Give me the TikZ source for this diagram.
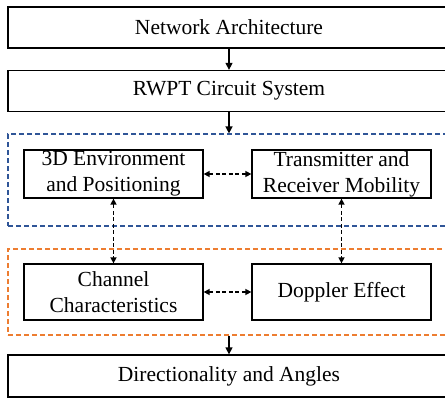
\documentclass[tikz,border=0pt]{standalone}
\usepackage{fontspec}
\setmainfont{Liberation Serif}
\newfontfamily\tmsfont{Liberation Serif}
\usetikzlibrary{arrows.meta}
\definecolor{grpblue}{RGB}{47,85,151}
\definecolor{grporange}{RGB}{237,125,49}
\tikzset{
  bigbox/.style={draw=black, line width=1.3pt, rectangle, minimum width=442pt, minimum height=41pt, inner sep=0pt, font=\tmsfont\fontsize{21.5}{25}\selectfont},
  smallbox/.style={draw=black, line width=1.3pt, rectangle, minimum width=179pt, minimum height=48pt, inner sep=0pt, align=center, font=\tmsfont\fontsize{21.5}{26}\selectfont},
  group/.style={draw, dashed, dash pattern=on 5pt off 3pt, line width=1.2pt, rectangle, minimum width=442pt, inner sep=0pt},
  solidarrow/.style={line width=1.4pt, -{Triangle[length=7pt,width=7pt]}},
  dasharrow/.style={line width=1.5pt, dashed, dash pattern=on 4pt off 2.5pt, {Triangle[length=6pt,width=6pt]}-{Triangle[length=6pt,width=6pt]}}
}
\begin{document}
\begin{tikzpicture}[x=1pt,y=-1pt]
\useasboundingbox (0,0) rectangle (445,399);
\clip (0,0) rectangle (445,399);
\node[group, draw=grpblue, minimum height=92pt] (blue) at (229,180) {};
\node[group, draw=grporange, minimum height=86pt] (orange) at (229,292) {};
\node[bigbox] (net) at (229,27.5) {Network Architecture};
\node[bigbox] (rwpt) at (229,91) {RWPT Circuit System};
\node[smallbox] (env) at (113.5,174) {3D Environment\\and Positioning};
\node[smallbox] (mob) at (341.5,174) {Transmitter and\\Receiver Mobility};
\node[smallbox, minimum height=56pt] (chan) at (113.5,292) {Channel\\Characteristics};
\node[smallbox, minimum height=56pt] (dop) at (341.5,292) {Doppler Effect};
\node[bigbox, minimum height=42pt] (dir) at (229,376) {Directionality and Angles};
\draw[solidarrow] (net) -- (rwpt);
\draw[solidarrow] (rwpt) -- (blue);
\draw[solidarrow] (orange) -- (dir);
\draw[dasharrow] (env) -- (mob);
\draw[dasharrow] (chan) -- (dop);
\draw[dasharrow] (env) -- (chan);
\draw[dasharrow] (mob.south) -- (dop.north);
\end{tikzpicture}
\end{document}
